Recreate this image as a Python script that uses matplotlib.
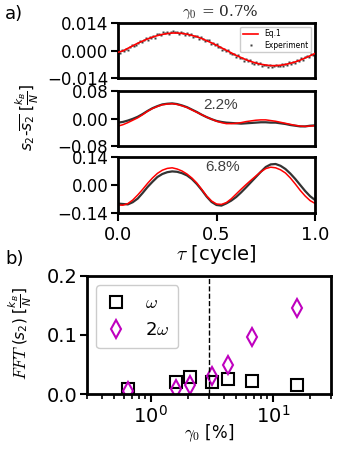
import numpy as np
import matplotlib
matplotlib.use("Agg")
import matplotlib.pyplot as plt

# ---------------- data ----------------
tau41 = [i * 0.025 for i in range(41)]
tau101 = [i * 0.01 for i in range(101)]

# panel a1 (gamma0 = 0.7%)
eq1_07 = [-0.0009, -0.0002, 0.0011, 0.0024, 0.0037, 0.0048, 0.0059, 0.0068, 0.0076, 0.0082,
          0.0086, 0.0089, 0.0089, 0.0087, 0.0083, 0.0077, 0.0070, 0.0061, 0.0050, 0.0039,
          0.0027, 0.0014, 0.0001, -0.0012, -0.0025, -0.0036, -0.0047, -0.0056, -0.0064, -0.0070,
          -0.0074, -0.0077, -0.0077, -0.0075, -0.0071, -0.0065, -0.0058, -0.0049, -0.0038, -0.0027,
          -0.0015]
exp_07 = [-0.0009, -0.0015, 0.0005, -0.0002, 0.0008, 0.0003, 0.0020, 0.0029, 0.0025, 0.0026,
          0.0040, 0.0049, 0.0042, 0.0051, 0.0065, 0.0052, 0.0068, 0.0065, 0.0076, 0.0064,
          0.0084, 0.0082, 0.0078, 0.0094, 0.0090, 0.0095, 0.0086, 0.0095, 0.0099, 0.0093,
          0.0095, 0.0084, 0.0096, 0.0088, 0.0079, 0.0088, 0.0078, 0.0086, 0.0068, 0.0074,
          0.0074, 0.0061, 0.0069, 0.0057, 0.0048, 0.0053, 0.0051, 0.0035, 0.0039, 0.0028,
          0.0034, 0.0019, 0.0017, 0.0003, 0.0010, -0.0001, 0.0002, -0.0015, -0.0016, -0.0017,
          -0.0032, -0.0024, -0.0037, -0.0036, -0.0052, -0.0043, -0.0052, -0.0048, -0.0062, -0.0068,
          -0.0061, -0.0069, -0.0064, -0.0079, -0.0076, -0.0073, -0.0082, -0.0072, -0.0086, -0.0079,
          -0.0072, -0.0081, -0.0077, -0.0071, -0.0080, -0.0069, -0.0073, -0.0061, -0.0067, -0.0060,
          -0.0064, -0.0050, -0.0053, -0.0040, -0.0048, -0.0035, -0.0029, -0.0033, -0.0019, -0.0022,
          -0.0012]

# panel a2 (2.2%)
eq1_22 = [-0.022, -0.018, -0.012, -0.005, 0.002, 0.011, 0.021, 0.029, 0.035, 0.040,
          0.042, 0.043, 0.041, 0.037, 0.032, 0.025, 0.018, 0.011, 0.004, -0.002,
          -0.008, -0.012, -0.015, -0.015, -0.014, -0.012, -0.009, -0.007, -0.005, -0.004,
          -0.004, -0.006, -0.008, -0.011, -0.014, -0.017, -0.020, -0.022, -0.023, -0.022,
          -0.021]
exp_22 = [-0.012, -0.010, -0.006, -0.001, 0.005, 0.013, 0.022, 0.030, 0.036, 0.041,
          0.043, 0.044, 0.042, 0.038, 0.033, 0.026, 0.019, 0.011, 0.004, -0.002,
          -0.007, -0.010, -0.012, -0.013, -0.014, -0.015, -0.014, -0.013, -0.012, -0.011,
          -0.011, -0.012, -0.012, -0.014, -0.016, -0.019, -0.021, -0.023, -0.023, -0.021,
          -0.020]

# panel a3 (6.8%)
eq1_68 = [-0.100, -0.101, -0.093, -0.075, -0.050, -0.022, 0.008, 0.035, 0.058, 0.074,
          0.083, 0.086, 0.080, 0.070, 0.055, 0.035, 0.010, -0.022, -0.055, -0.080,
          -0.095, -0.097, -0.088, -0.069, -0.045, -0.021, 0.002, 0.024, 0.045, 0.066,
          0.082, 0.089, 0.086, 0.076, 0.060, 0.035, 0.005, -0.027, -0.055, -0.078,
          -0.092]
exp_68 = [-0.093, -0.095, -0.097, -0.086, -0.068, -0.040, -0.010, 0.016, 0.040, 0.055,
          0.064, 0.068, 0.066, 0.059, 0.048, 0.030, 0.005, -0.025, -0.058, -0.085,
          -0.100, -0.103, -0.092, -0.078, -0.060, -0.037, -0.012, 0.014, 0.040, 0.066,
          0.090, 0.103, 0.105, 0.096, 0.080, 0.057, 0.030, 0.000, -0.030, -0.056,
          -0.075]

# panel b
gamma0 = [0.65, 1.6, 2.1, 3.2, 4.3, 6.8, 15.8]
fft_w = [0.009, 0.020, 0.029, 0.020, 0.025, 0.022, 0.015]
fft_2w = [0.005, 0.009, 0.015, 0.030, 0.049, 0.096, 0.146]

panel_titles = ["0.7%", "2.2%", "6.8%"]

# ---------------- figure ----------------
plt.rcParams['font.family'] = ['DejaVu Sans']
plt.rcParams['mathtext.fontset'] = 'dejavusans'

fig = plt.figure(figsize=(3.38, 4.5), dpi=100)

L, W = 118 / 338, 197 / 338
def fy(top, bot):
    return [L, 1 - bot / 450, W, (bot - top) / 450]

ax1 = fig.add_axes(fy(23, 78))
ax2 = fig.add_axes(fy(91, 146))
ax3 = fig.add_axes(fy(157, 213))
axb = fig.add_axes([87 / 338, 1 - 394 / 450, 244 / 338, 118 / 450])

for ax in (ax1, ax2, ax3, axb):
    for s in ax.spines.values():
        s.set_linewidth(2)
    ax.tick_params(direction='out', width=1.5, length=5, labelsize=12, pad=2)

# panel a1
ax1.plot(tau101, exp_07, ls='none', marker='s', ms=1.6, color='0.25', mec='none', label='Experiment')
ax1.plot(tau41, eq1_07, color='red', lw=1.2, label='Eq.1', zorder=3)
ax1.set_ylim(-0.014, 0.014)
ax1.set_yticks([-0.014, 0, 0.014])
ax1.set_yticklabels(['\u22120.014', '0.000', '0.014'])
h, l = ax1.get_legend_handles_labels()
leg1 = ax1.legend([h[1], h[0]], [l[1], l[0]], loc='upper right', fontsize=5.5,
                  handlelength=2.0, markerscale=1.3, borderpad=0.35, labelspacing=0.3,
                  framealpha=1, edgecolor='0.8')
ax1.text(0.52, 1.04, r'$\gamma_0$ = 0.7%', transform=ax1.transAxes, ha='center', va='bottom',
         fontsize=11, math_fontfamily='cm', family='DejaVu Serif', color='0.15')

# panel a2
ax2.plot(tau41, exp_22, color='0.2', lw=1.6)
ax2.plot(tau41, eq1_22, color='red', lw=1.1)
ax2.set_ylim(-0.08, 0.08)
ax2.set_yticks([-0.08, 0, 0.08])
ax2.set_yticklabels(['\u22120.08', '0.00', '0.08'])
ax2.text(0.52, 0.88, panel_titles[1], transform=ax2.transAxes, ha='center', va='top',
         fontsize=11, family='Liberation Sans', color='0.25')

# panel a3
ax3.plot(tau41, exp_68, color='0.2', lw=1.6)
ax3.plot(tau41, eq1_68, color='red', lw=1.1)
ax3.set_ylim(-0.14, 0.14)
ax3.set_yticks([-0.14, 0, 0.14])
ax3.set_yticklabels(['\u22120.14', '0.00', '0.14'])
ax3.text(0.53, 0.94, panel_titles[2], transform=ax3.transAxes, ha='center', va='top',
         fontsize=11, family='Liberation Sans', color='0.25')

for ax in (ax1, ax2):
    ax.set_xlim(0, 1)
    ax.set_xticks([])
ax3.set_xlim(0, 1)
ax3.set_xticks([0, 0.5, 1.0])
ax3.set_xticklabels(['0.0', '0.5', '1.0'])
ax3.tick_params(axis='x', length=6, pad=3, labelsize=13)
ax3.set_xlabel(r'$\tau$ [cycle]', fontsize=14, math_fontfamily='cm', labelpad=0)

fig.text(27 / 338, 1 - 118 / 450, r'$s_2$-$\overline{s_2}$ $[\frac{k_B}{N}]$', rotation=90,
         ha='center', va='center', fontsize=11)

# panel b
axb.plot(gamma0, fft_w, ls='none', marker='s', ms=8, mfc='none', mec='black', mew=1.5,
         label=r'$\omega$')
axb.plot(gamma0, fft_2w, ls='none', marker='d', ms=9, mfc='none', mec='m', mew=1.5,
         label=r'2$\omega$')
axb.axvline(3, color='black', ls='--', lw=1)
axb.set_xscale('log')
axb.set_xlim(0.3, 30)
axb.set_ylim(0, 0.2)
axb.set_yticks([0, 0.1, 0.2])
axb.set_yticklabels(['0.0', '0.1', '0.2'])
axb.tick_params(labelsize=14)
axb.tick_params(axis='x', which='major', length=6, width=1.5)
axb.tick_params(axis='x', which='minor', length=3.5, width=1.2)
axb.set_xlabel(r'$\gamma_0$ [%]', fontsize=12, math_fontfamily='cm', labelpad=-3)
legb = axb.legend(loc='upper left', fontsize=13, handlelength=1.2, borderpad=0.5,
                  labelspacing=0.5, handletextpad=1.0, framealpha=1, edgecolor='0.8')
for t in legb.get_texts():
    t.set_math_fontfamily('cm')

xb = 26 / 338
yb = 1 - 345 / 450
fig.text(xb, yb, r'$FFT$', rotation=90, rotation_mode='anchor', ha='right', va='baseline',
         fontsize=12, math_fontfamily='cm')
fig.text(xb, yb, r'$(s_2)$ $[\frac{k_B}{N}]$', rotation=90, rotation_mode='anchor',
         ha='left', va='baseline', fontsize=11)

fig.text(5 / 338, 1 - 14 / 450, 'a)', fontsize=13, va='center', ha='left')
fig.text(5 / 338, 1 - 259 / 450, 'b)', fontsize=13, va='center', ha='left')

fig.savefig('out.png', dpi=100)
